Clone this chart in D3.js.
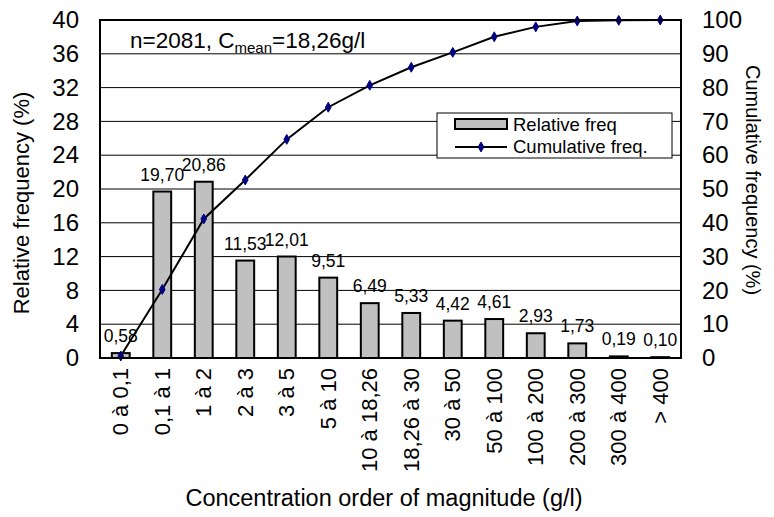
<!DOCTYPE html>
<html><head><meta charset="utf-8">
<script src="https://cdn.jsdelivr.net/npm/d3@7"></script>
<style>
html,body{margin:0;padding:0;background:#fff;}
text{font-family:"Liberation Sans",Arial,sans-serif;fill:#000;}
</style></head>
<body>
<svg id="chart" width="774" height="517"></svg>
<script>
const categories = ["0 à 0,1","0,1 à 1","1 à 2","2 à 3","3 à 5","5 à 10","10 à 18,26","18,26 à 30","30 à 50","50 à 100","100 à 200","200 à 300","300 à 400","> 400"];
const relFreq = [0.58,19.70,20.86,11.53,12.01,9.51,6.49,5.33,4.42,4.61,2.93,1.73,0.19,0.10];
const cumFreq = [0.58,20.28,41.14,52.67,64.68,74.19,80.68,86.01,90.43,95.04,97.97,99.70,99.89,99.99];
const leftTicks = [0,4,8,12,16,20,24,28,32,36,40];
const rightTicks = [0,10,20,30,40,50,60,70,80,90,100];

const FF = "Liberation Sans, Arial, sans-serif";
const svg = d3.select("#chart");
const m = {left:100, top:20, right:774-681, bottom:517-358};
const W = 774 - m.left - m.right, H = 517 - m.top - m.bottom;
const g = svg.append("g").attr("transform",`translate(${m.left},${m.top})`);

const x = d3.scaleBand().domain(categories).range([0,W]).paddingInner(0.57).paddingOuter(0.285);
const yL = d3.scaleLinear().domain([0,40]).range([H,0]);
const yR = d3.scaleLinear().domain([0,100]).range([H,0]);
const fmt = v => d3.format(".2f")(v).replace(".",",");

// gridlines
g.append("g").selectAll("line").data(leftTicks.filter(t=>t>0&&t<40)).join("line")
 .attr("x1",0).attr("x2",W).attr("y1",d=>yL(d)).attr("y2",d=>yL(d))
 .attr("stroke","#000").attr("stroke-width",1);

// bars
g.append("g").selectAll("rect").data(relFreq).join("rect")
 .attr("x",(d,i)=>x(categories[i])).attr("width",x.bandwidth())
 .attr("y",d=>yL(d)).attr("height",d=>H-yL(d))
 .attr("fill","#c0c0c0").attr("stroke","#000").attr("stroke-width",2);

// bar labels
g.append("g").selectAll("text").data(relFreq).join("text")
 .attr("x",(d,i)=>x(categories[i])+x.bandwidth()/2)
 .attr("y",d=>yL(d)-11)
 .attr("text-anchor","middle").attr("font-size",17.5)
 .text(d=>fmt(d));

// line
const cx = i => x(categories[i])+x.bandwidth()/2;
g.append("path").datum(cumFreq)
 .attr("d",d3.line().x((d,i)=>cx(i)).y(d=>yR(d)))
 .attr("fill","none").attr("stroke","#000").attr("stroke-width",2);
g.append("g").selectAll("path").data(cumFreq).join("path")
 .attr("transform",(d,i)=>`translate(${cx(i)},${yR(d)})`)
 .attr("d",d3.symbol().type(d3.symbolDiamond).size(28))
 .attr("fill","#000080").attr("stroke","#000080");

// frame
g.append("rect").attr("x",0).attr("y",0).attr("width",W).attr("height",H)
 .attr("fill","none").attr("stroke","#000").attr("stroke-width",2);

// axes
const axL = g.append("g").call(d3.axisLeft(yL).tickValues(leftTicks).tickSize(0).tickPadding(21));
axL.select(".domain").remove();
axL.selectAll("text").attr("font-size",24).style("font-family",FF);
const axR = g.append("g").attr("transform",`translate(${W},0)`).call(d3.axisRight(yR).tickValues(rightTicks).tickSize(0).tickPadding(21));
axR.select(".domain").remove();
axR.selectAll("text").attr("font-size",24).style("font-family",FF);
const axB = g.append("g").attr("transform",`translate(0,${H})`).call(d3.axisBottom(x).tickSize(0).tickPadding(10));
axB.select(".domain").remove();
axB.selectAll("text").attr("font-size",22).style("font-family",FF)
 .attr("transform","rotate(-90)").attr("text-anchor","end")
 .attr("x",-10).attr("y",0).attr("dy","0.35em");

// titles
svg.append("text").attr("transform","translate(29,203) rotate(-90)").attr("text-anchor","middle").attr("font-size",22).text("Relative frequency (%)");
svg.append("text").attr("transform","translate(746,180) rotate(90)").attr("text-anchor","middle").attr("font-size",20).text("Cumulative frequency (%)");
svg.append("text").attr("x",384).attr("y",506).attr("text-anchor","middle").attr("font-size",23.5).text("Concentration order of magnitude (g/l)");

// annotation
const ann = svg.append("text").attr("x",130).attr("y",48).attr("font-size",22.5);
ann.append("tspan").text("n=2081, C");
ann.append("tspan").attr("font-size",15).attr("dy",5).text("mean");
ann.append("tspan").attr("dy",-5).text("=18,26g/l");

// legend
const lg = svg.append("g").attr("transform","translate(437,113)");
lg.append("rect").attr("width",235).attr("height",45).attr("fill","#fff").attr("stroke","#000").attr("stroke-width",1);
lg.append("rect").attr("x",18).attr("y",6).attr("width",52).attr("height",10).attr("fill","#c0c0c0").attr("stroke","#000").attr("stroke-width",2);
lg.append("text").attr("x",76).attr("y",18).attr("font-size",18.5).text("Relative freq");
lg.append("line").attr("x1",18).attr("x2",70).attr("y1",34).attr("y2",34).attr("stroke","#000").attr("stroke-width",2);
lg.append("path").attr("transform","translate(44,34)").attr("d",d3.symbol().type(d3.symbolDiamond).size(28)).attr("fill","#000080").attr("stroke","#000080");
lg.append("text").attr("x",76).attr("y",40).attr("font-size",18.5).text("Cumulative freq.");
</script>
</body></html>
